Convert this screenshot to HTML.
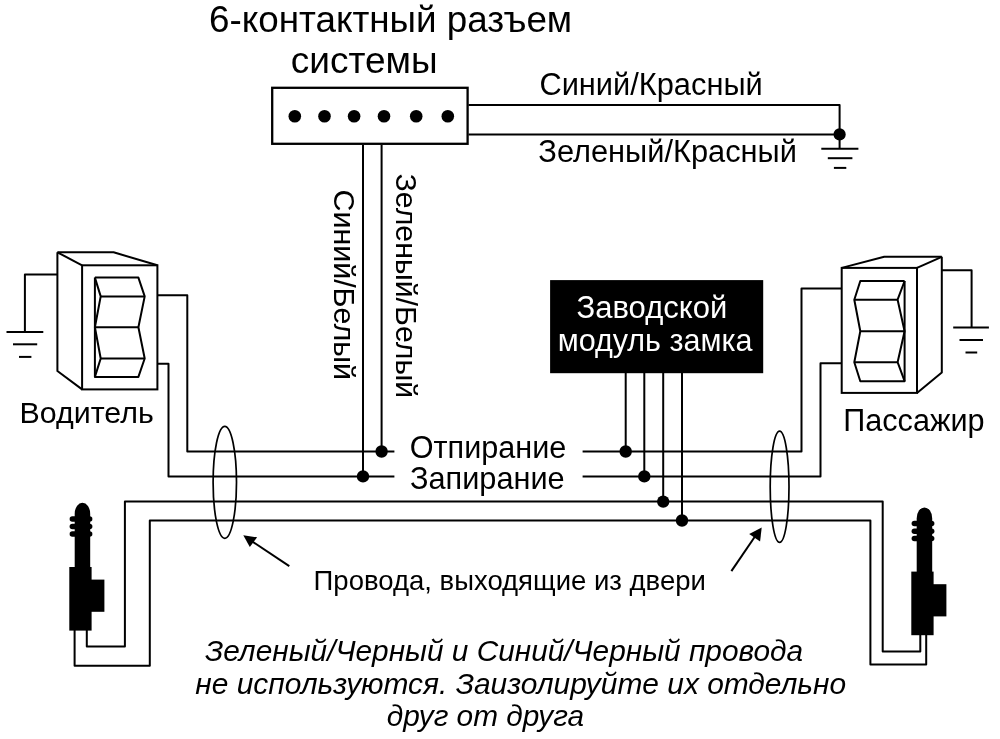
<!DOCTYPE html>
<html><head><meta charset="utf-8"><style>
html,body{margin:0;padding:0;background:#fff;width:1000px;height:739px;overflow:hidden}
svg{display:block;will-change:transform;filter:blur(0.3px)}
text{font-family:"Liberation Sans",sans-serif}
</style></head><body>
<svg width="1000" height="739" viewBox="0 0 1000 739">
<text x="209.0" y="31.9" font-size="36.8" font-style="normal" fill="#000" >6-контактный разъем</text>
<text x="290.8" y="72.5" font-size="37" font-style="normal" fill="#000" >системы</text>
<rect x="272.2" y="87.8" width="195.4" height="56" fill="none" stroke="#000" stroke-width="2.3"/>
<circle cx="294.8" cy="116.3" r="6.3" fill="#000"/>
<circle cx="324.5" cy="116.3" r="6.3" fill="#000"/>
<circle cx="354.1" cy="116.3" r="6.3" fill="#000"/>
<circle cx="384.0" cy="116.3" r="6.3" fill="#000"/>
<circle cx="416.2" cy="116.3" r="6.3" fill="#000"/>
<circle cx="447.8" cy="116.3" r="6.3" fill="#000"/>
<path d="M468.5,104.9 L839.6,104.9 L839.6,148.7" fill="none" stroke="#000" stroke-width="2" stroke-linejoin="round" stroke-linecap="butt"/>
<path d="M468.5,134.4 L839.6,134.4" fill="none" stroke="#000" stroke-width="2" stroke-linejoin="round" stroke-linecap="butt"/>
<circle cx="839.6" cy="134.4" r="6.1" fill="#000"/>
<path d="M821.3,148.7 L858.4,148.7" fill="none" stroke="#000" stroke-width="2" stroke-linejoin="round" stroke-linecap="butt"/>
<path d="M827.8,158.2 L852.4,158.2" fill="none" stroke="#000" stroke-width="2" stroke-linejoin="round" stroke-linecap="butt"/>
<path d="M833.9,167.9 L846.3,167.9" fill="none" stroke="#000" stroke-width="2" stroke-linejoin="round" stroke-linecap="butt"/>
<text x="539.4" y="94.9" font-size="30.8" font-style="normal" fill="#000" >Синий/Красный</text>
<text x="538.3" y="161.7" font-size="30.8" font-style="normal" fill="#000" >Зеленый/Красный</text>
<path d="M363.0,145.0 L363.0,476.4" fill="none" stroke="#000" stroke-width="2" stroke-linejoin="round" stroke-linecap="butt"/>
<path d="M381.6,145.0 L381.6,451.5" fill="none" stroke="#000" stroke-width="2" stroke-linejoin="round" stroke-linecap="butt"/>
<circle cx="363.0" cy="476.4" r="6.2" fill="#000"/>
<circle cx="381.6" cy="451.5" r="6.2" fill="#000"/>
<text transform="translate(334,189.5) rotate(90)" font-size="30.4">Синий/Белый</text>
<text transform="translate(396,173.5) rotate(90)" font-size="30.3">Зеленый/Белый</text>
<path d="M57.4,252.3 L113.6,252.3 L157.4,265.3" fill="none" stroke="#000" stroke-width="2" stroke-linejoin="round" stroke-linecap="butt"/>
<path d="M57.4,252.3 L82.1,265.3" fill="none" stroke="#000" stroke-width="2" stroke-linejoin="round" stroke-linecap="butt"/>
<path d="M57.4,252.3 L57.4,371.0 L82.1,389.4" fill="none" stroke="#000" stroke-width="2" stroke-linejoin="round" stroke-linecap="butt"/>
<rect x="82.1" y="265.3" width="75.3" height="124.1" fill="none" stroke="#000" stroke-width="2"/>
<path d="M94.9,277.6 L138.4,277.6 L144.7,296.4 L138.4,327.3 L144.7,358.5 L138.4,376.9 L94.9,376.9 L94.9,277.6" fill="none" stroke="#000" stroke-width="2" stroke-linejoin="round" stroke-linecap="butt"/>
<path d="M94.9,277.6 L100.7,296.4 L94.9,327.3 L100.7,358.5 L94.9,376.9" fill="none" stroke="#000" stroke-width="2" stroke-linejoin="round" stroke-linecap="butt"/>
<path d="M100.7,296.4 L144.7,296.4" fill="none" stroke="#000" stroke-width="2" stroke-linejoin="round" stroke-linecap="butt"/>
<path d="M94.9,327.3 L138.4,327.3" fill="none" stroke="#000" stroke-width="2" stroke-linejoin="round" stroke-linecap="butt"/>
<path d="M100.7,358.5 L144.7,358.5" fill="none" stroke="#000" stroke-width="2" stroke-linejoin="round" stroke-linecap="butt"/>
<path d="M57.4,274.6 L24.9,274.6 L24.9,332.0" fill="none" stroke="#000" stroke-width="2" stroke-linejoin="round" stroke-linecap="butt"/>
<path d="M6.5,332.0 L43.3,332.0" fill="none" stroke="#000" stroke-width="2" stroke-linejoin="round" stroke-linecap="butt"/>
<path d="M13.0,344.3 L37.2,344.3" fill="none" stroke="#000" stroke-width="2" stroke-linejoin="round" stroke-linecap="butt"/>
<path d="M19.0,356.9 L31.4,356.9" fill="none" stroke="#000" stroke-width="2" stroke-linejoin="round" stroke-linecap="butt"/>
<path d="M157.4,295.3 L187.3,295.3 L187.3,451.5 L394.4,451.5" fill="none" stroke="#000" stroke-width="2" stroke-linejoin="round" stroke-linecap="butt"/>
<path d="M157.4,363.8 L168.5,363.8 L168.5,476.4 L394.4,476.4" fill="none" stroke="#000" stroke-width="2" stroke-linejoin="round" stroke-linecap="butt"/>
<text x="19.5" y="423.0" font-size="30.4" font-style="normal" fill="#000" >Водитель</text>
<path d="M941.8,256.8 L884.2,256.8 L841.7,267.9" fill="none" stroke="#000" stroke-width="2" stroke-linejoin="round" stroke-linecap="butt"/>
<path d="M941.8,256.8 L917.0,267.9" fill="none" stroke="#000" stroke-width="2" stroke-linejoin="round" stroke-linecap="butt"/>
<path d="M941.8,256.8 L941.8,372.6 L917.0,392.9" fill="none" stroke="#000" stroke-width="2" stroke-linejoin="round" stroke-linecap="butt"/>
<rect x="841.7" y="267.9" width="75.3" height="125" fill="none" stroke="#000" stroke-width="2"/>
<path d="M904.6,281.0 L860.3,281.0 L854.3,299.7 L860.3,331.3 L854.3,362.2 L860.3,381.2 L904.6,381.2 L904.6,281.0" fill="none" stroke="#000" stroke-width="2" stroke-linejoin="round" stroke-linecap="butt"/>
<path d="M904.6,281.0 L897.6,299.7 L904.6,331.3 L897.6,362.2 L904.6,381.2" fill="none" stroke="#000" stroke-width="2" stroke-linejoin="round" stroke-linecap="butt"/>
<path d="M854.3,299.7 L897.6,299.7" fill="none" stroke="#000" stroke-width="2" stroke-linejoin="round" stroke-linecap="butt"/>
<path d="M860.3,331.3 L904.6,331.3" fill="none" stroke="#000" stroke-width="2" stroke-linejoin="round" stroke-linecap="butt"/>
<path d="M854.3,362.2 L897.6,362.2" fill="none" stroke="#000" stroke-width="2" stroke-linejoin="round" stroke-linecap="butt"/>
<path d="M941.8,270.2 L971.6,270.2 L971.6,327.5" fill="none" stroke="#000" stroke-width="2" stroke-linejoin="round" stroke-linecap="butt"/>
<path d="M953.2,327.5 L988.9,327.5" fill="none" stroke="#000" stroke-width="2" stroke-linejoin="round" stroke-linecap="butt"/>
<path d="M959.5,340.0 L983.0,340.0" fill="none" stroke="#000" stroke-width="2" stroke-linejoin="round" stroke-linecap="butt"/>
<path d="M965.5,352.5 L977.2,352.5" fill="none" stroke="#000" stroke-width="2" stroke-linejoin="round" stroke-linecap="butt"/>
<path d="M841.7,288.4 L801.5,288.4 L801.5,451.5 L582.6,451.5" fill="none" stroke="#000" stroke-width="2" stroke-linejoin="round" stroke-linecap="butt"/>
<path d="M841.7,363.3 L820.5,363.3 L820.5,476.4 L582.6,476.4" fill="none" stroke="#000" stroke-width="2" stroke-linejoin="round" stroke-linecap="butt"/>
<text x="843.3" y="431.0" font-size="30.6" font-style="normal" fill="#000" >Пассажир</text>
<rect x="550.1" y="280.1" width="213.1" height="93.1" fill="#000"/>
<text x="576.5" y="317.6" font-size="31" font-style="normal" fill="#fff" >Заводской</text>
<text x="557.7" y="351.2" font-size="30.5" font-style="normal" fill="#fff" >модуль замка</text>
<path d="M625.7,373.0 L625.7,451.5" fill="none" stroke="#000" stroke-width="2" stroke-linejoin="round" stroke-linecap="butt"/>
<path d="M644.3,373.0 L644.3,476.4" fill="none" stroke="#000" stroke-width="2" stroke-linejoin="round" stroke-linecap="butt"/>
<path d="M663.2,373.0 L663.2,501.6" fill="none" stroke="#000" stroke-width="2" stroke-linejoin="round" stroke-linecap="butt"/>
<path d="M682.0,373.0 L682.0,520.5" fill="none" stroke="#000" stroke-width="2" stroke-linejoin="round" stroke-linecap="butt"/>
<circle cx="625.7" cy="451.5" r="6.2" fill="#000"/>
<circle cx="644.3" cy="476.4" r="6.2" fill="#000"/>
<circle cx="663.2" cy="501.6" r="6.2" fill="#000"/>
<circle cx="682.0" cy="520.5" r="6.2" fill="#000"/>
<text x="409.8" y="458.3" font-size="30.6" font-style="normal" fill="#000" >Отпирание</text>
<text x="410.0" y="488.7" font-size="30.7" font-style="normal" fill="#000" >Запирание</text>
<path d="M86.8,630.0 L86.8,646.5 L124.9,646.5 L124.9,501.6 L882.7,501.6 L882.7,651.5 L920.3,651.5 L920.3,635.0" fill="none" stroke="#000" stroke-width="2" stroke-linejoin="round" stroke-linecap="butt"/>
<path d="M74.6,630.0 L74.6,665.7 L149.8,665.7 L149.8,520.5 L870.4,520.5 L870.4,664.4 L926.2,664.4 L926.2,635.0" fill="none" stroke="#000" stroke-width="2" stroke-linejoin="round" stroke-linecap="butt"/>
<g transform="translate(0,0)" fill="#000"><path d="M74.7,568 L74.7,513.8 A7.75,11 0 0 1 90.2,513.8 L90.2,568 Z"/><rect x="69.6" y="516.25" width="22.8" height="5.5" rx="2.75"/><rect x="69.6" y="523.85" width="22.8" height="5.5" rx="2.75"/><rect x="69.6" y="531.25" width="22.8" height="5.5" rx="2.75"/><rect x="69.3" y="567" width="22.3" height="63.6"/><rect x="91" y="579.6" width="13.4" height="32.2"/></g>
<g transform="translate(842,4.6)" fill="#000"><path d="M74.7,568 L74.7,513.8 A7.75,11 0 0 1 90.2,513.8 L90.2,568 Z"/><rect x="69.6" y="516.25" width="22.8" height="5.5" rx="2.75"/><rect x="69.6" y="523.85" width="22.8" height="5.5" rx="2.75"/><rect x="69.6" y="531.25" width="22.8" height="5.5" rx="2.75"/><rect x="69.3" y="567" width="22.3" height="63.6"/><rect x="91" y="579.6" width="13.4" height="32.2"/></g>
<ellipse cx="224.8" cy="482.3" rx="11.7" ry="56" fill="none" stroke="#000" stroke-width="1.7"/>
<ellipse cx="779.6" cy="486.8" rx="9.4" ry="55.6" fill="none" stroke="#000" stroke-width="1.7"/>
<path d="M289.3,566.2 L250.0,540.0" fill="none" stroke="#000" stroke-width="2" stroke-linejoin="round" stroke-linecap="butt"/>
<path d="M243.3,535.2 L257.1,537.3 L249.8,547.1 Z" fill="#000"/>
<path d="M731.4,571.1 L756.0,535.0" fill="none" stroke="#000" stroke-width="2" stroke-linejoin="round" stroke-linecap="butt"/>
<path d="M761.7,527.6 L749.2,534 L760.1,541.4 Z" fill="#000"/>
<text x="313.6" y="589.8" font-size="27.5" font-style="normal" fill="#000" >Провода, выходящие из двери</text>
<text x="205.0" y="660.5" font-size="29.8" font-style="italic" fill="#000" >Зеленый/Черный и Синий/Черный провода</text>
<text x="195.3" y="693.7" font-size="29.9" font-style="italic" fill="#000" >не используются. Заизолируйте их отдельно</text>
<text x="386.7" y="726.4" font-size="29.8" font-style="italic" fill="#000" >друг от друга</text>
</svg>
</body></html>
